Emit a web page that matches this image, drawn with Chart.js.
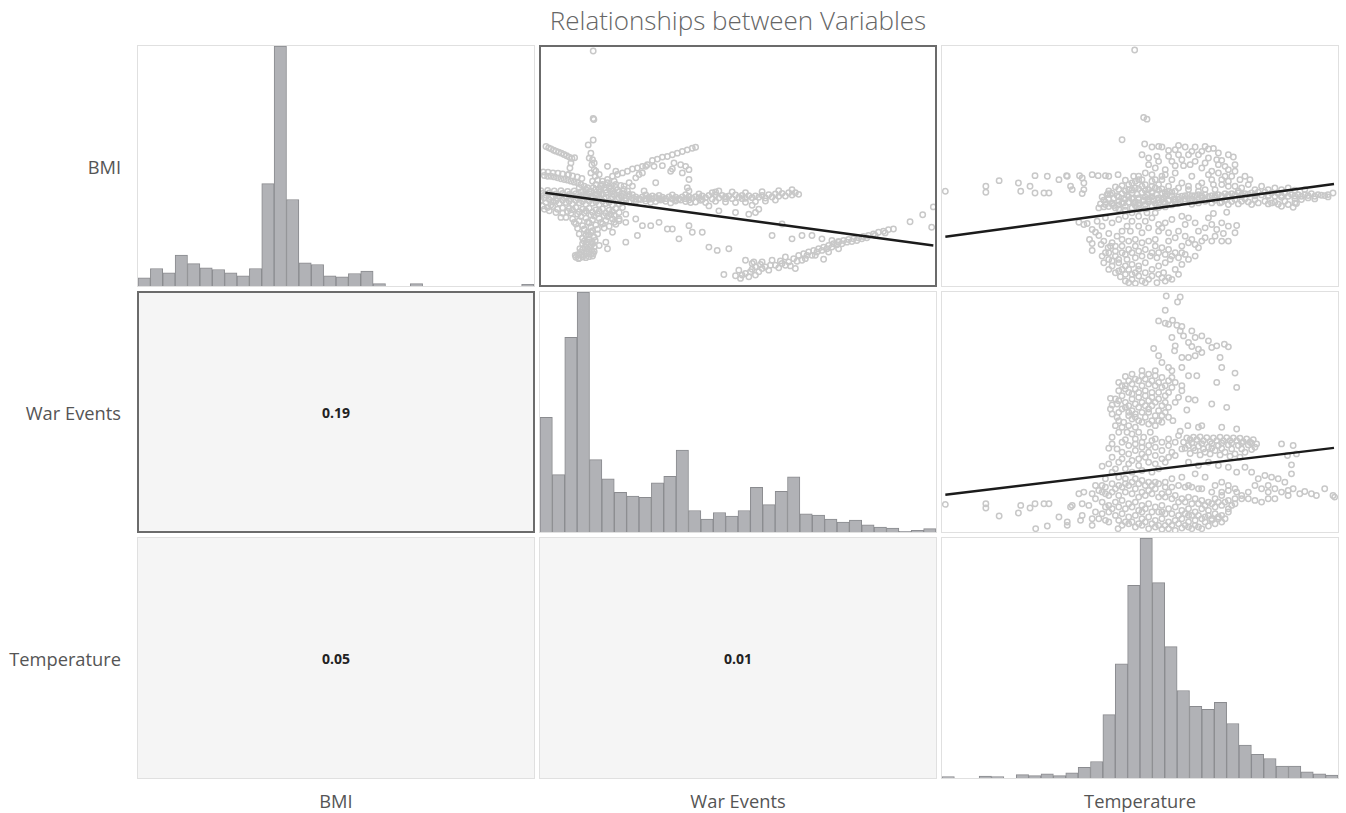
<!DOCTYPE html>
<html>
<head>
<meta charset="utf-8">
<title>Relationships between Variables</title>
<script src="https://cdn.jsdelivr.net/npm/chart.js@4.4.1/dist/chart.umd.min.js"></script>
<style>
  body { margin: 0; background: #fff; font-family: 'Open Sans', 'Noto Sans', sans-serif; }
  #page { position: relative; width: 1346px; height: 813px; overflow: hidden; }
  #titulo { position: absolute; left: 137px; width: 1202px; top: 2px; text-align: center; font-size: 26px; font-weight: 300; color: #666; }
  #grade { position: absolute; left: 137px; top: 45px; display: grid;
           grid-template-columns: repeat(3, 398px); grid-template-rows: repeat(3, 242px); gap: 4px; }
  .cell { position: relative; box-sizing: border-box; border: 1px solid #e0e0e0; background: #fff; }
  .cell.corr { background: #f5f5f5; display: flex; align-items: center; justify-content: center;
               font-weight: bold; font-size: 14px; color: #222; }
  .cell.destaque { border: 2px solid #6b6b6b; }
  .rotulo-linha { position: absolute; left: 0; width: 121px; height: 242px; display: flex;
                  align-items: center; justify-content: flex-end; font-size: 18.3px; color: #555; }
  .rotulo-coluna { position: absolute; top: 788px; width: 398px; text-align: center; font-size: 18.3px; color: #555; }
</style>
</head>
<body>
<div id="page">
  <div id="titulo">Relationships between Variables</div>
  <div id="grade"></div>
</div>
<script>
const variaveis = ['BMI', 'War Events', 'Temperature'];

// histogramas (32 classes cada)
const bmiCounts = [25, 53, 40, 94, 68, 55, 50, 40, 31, 53, 310, 727, 262, 70, 65, 31,
                   28, 38, 45, 7, 0, 0, 7, 0, 0, 0, 0, 0, 0, 0, 0, 5];
const warCounts = [347, 174, 590, 727, 219, 161, 120, 109, 105, 149, 169, 248, 65, 39, 59, 48,
                   65, 135, 83, 123, 167, 55, 51, 39, 30, 36, 22, 15, 12, 2, 5, 10];
const tempCounts = [4, 0, 0, 6, 4, 0, 10, 7, 13, 7, 16, 32, 50, 192, 346, 584,
                    727, 592, 398, 265, 217, 208, 229, 165, 100, 72, 59, 36, 36, 19, 13, 9];

// correlações (linha, coluna) do triângulo inferior
const corrPairs = [[1, 0], [2, 0], [2, 1]];
const corrValues = [0.19, 0.05, 0.01];

// BMI (y) x War Events (x)
const warBmiPoints = [
  [17.2,71.0],[17.2,50.5],[17.4,50.2],[17.2,44.0],[15.7,42.5],[16.5,40.0],[16.0,38.5],
  [3.0,42.0],[3.8,41.6],[4.5,41.3],[5.3,40.9],[6.0,40.6],[6.8,40.3],[7.6,40.0],[8.4,39.6],[9.2,39.2],
  [10.0,38.8],[10.8,38.4],[11.6,38.6],[10.5,37.0],[10.2,35.5],[9.8,33.5],
  [2.5,33.2],[3.5,33.0],[4.5,33.0],[5.5,32.8],[6.5,32.5],[7.5,32.2],[8.5,32.0],[9.5,31.8],[10.5,31.5],
  [11.5,31.2],[12.5,31.0],[13.5,30.5],[14.5,30.0],[15.5,29.5],
  [16.8,36.5],[17.5,35.0],[16.5,34.0],[17.8,33.0],[17.0,31.5],[18.0,30.5],[17.2,29.5],[16.5,28.5],[18.5,27.5],
  [20.0,31.5],[21.5,32.0],[23.0,33.0],[24.5,33.5],[26.0,34.0],[27.5,34.5],[29.0,35.2],[30.5,35.5],[32.0,36.0],
  [33.5,36.5],[35.0,37.8],[36.5,38.2],[38.0,38.8],[39.5,39.0],[41.0,39.5],[42.5,40.0],[44.0,40.5],[45.5,41.0],
  [47.0,41.5],[48.0,41.8],
  [21.5,36.0],[24.0,34.5],[22.0,29.5],[24.0,30.5],[26.5,30.0],[28.0,31.0],[30.0,32.5],[32.0,34.0],[33.0,36.0],
  [35.5,36.0],[38.0,36.2],[40.5,34.5],[41.5,37.0],[43.5,36.5],[44.0,34.0],[45.0,36.0],[46.0,35.0],[46.0,32.0],
  [45.5,29.5],[46.0,28.5],[41.0,35.2],[36.0,31.0],[31.0,33.5],[29.0,30.0],[32.5,28.5],[35.0,27.0],[23.5,27.5],[25.5,27.0],
  [2.0,27.8],[4.0,27.9],[6.0,27.6],[8.0,27.8],[10.0,27.5],[12.0,27.7],[14.0,27.4],[16.0,27.6],[18.0,27.3],[20.0,27.5],
  [2.5,26.4],[4.5,26.6],[6.5,26.3],[8.5,26.5],[10.5,26.2],[12.5,26.4],[14.5,26.1],[16.5,26.3],[18.5,26.0],[20.5,26.2],
  [22.5,26.0],[24.5,26.1],
  [3.0,25.0],[5.0,25.2],[7.0,24.8],[9.0,25.0],[11.0,24.6],[13.0,24.9],[15.0,24.5],[17.0,24.8],[19.0,24.4],[21.0,24.7],
  [23.0,24.3],[25.0,24.6],
  [8.0,23.4],[10.0,23.2],[12.0,23.5],[14.0,23.0],[16.0,23.3],[18.0,22.8],[20.0,23.1],[22.0,22.7],
  [10.5,21.8],[12.5,21.5],[14.5,21.9],[16.5,21.2],[18.5,21.6],[20.5,21.0],[22.5,21.4],
  [13.0,29.5],[15.0,29.0],[19.0,29.2],[21.0,28.8],[23.0,28.5],[25.0,28.2],[20.0,30.5],[22.0,30.0],[24.0,29.6],
  [14.0,28.4],[26.0,27.8],[28.0,27.5],
  [26,26.9],[28,26.8],[30,26.7],[32,26.7],[34,26.6],[36,26.6],[38,26.6],[40,26.7],[42,26.6],[44,26.7],[46,26.8],
  [48,26.8],[50,27.0],[52,27.2],[54,27.3],[56,27.2],[58,27.0],[60,27.3],[62,27.2],[64,27.1],[66,27.0],[68,27.2],
  [70,27.4],[72,27.6],[74,27.8],[76,28.0],[78,28.0],
  [27,25.6],[30,25.4],[33,25.5],[36,25.3],[39,25.4],[42,25.5],[45,25.3],[48,25.2],[51,25.0],[52,24.0],[54,25.4],
  [57,25.2],[60,25.0],[63,25.1],[66,25.3],[69,25.5],[72,25.8],[54,28.2],[55,28.5],[57,26.2],[62,26.2],[65,24.2],[67,23.0],
  [9,20.5],[11,20.0],[13,19.5],[15,20.3],[17,19.8],[19,20.2],[21,19.6],[23,20.0],[25,19.5],
  [12,18.5],[14,18.0],[16,18.8],[18,18.2],[20,18.5],[22,17.8],[24,18.4],
  [14.5,17.0],[15.5,16.0],[15.0,15.0],[16.0,14.0],[15.5,13.0],[16.5,12.0],[15.5,11.0],[16.0,10.0],[15.0,9.5],
  [17.0,16.5],[17.5,14.5],[17.0,12.5],[14.0,12.5],[16.8,10.5],
  [12.0,8.4],[13.0,8.2],[14.0,8.5],[15.0,8.3],[16.0,8.6],[17.0,8.8],[12.5,9.2],[14.5,9.0],[16.5,9.4],[13.5,10.0],
  [17.5,10.2],[12.8,8.0],
  [25,20],[27,19],[30,20],[32,18],[34.5,18],[37,19],[39.5,17],[41,17],[43,14],[46,18],[47,16],[50,16],[52,11.5],
  [54.5,10.5],[58,11],[55,22.5],[60,22],[64,21.5],[66,22],[71,15],[74,18.5],[77,14],[80,15],[83,15],[86,14],
  [89,13.5],[91,13.2],[23,16],[21,13],[21.5,11],[27,13],[30.5,15],[19,12],[23.5,19],
  [56.5,3.2],[60,2.8],[61.5,2.0],[63,3.5],[64,2.5],[63,7.5],[65.5,7.0],[66,5.5],[67,4.0],[68,5.0],[69,5.5],[70,4.5],
  [66,3.0],[72,6.0],[74,6.5],[75,6.0],[76,7.0],[77.5,8.0],[75,8.5],[78,5],[79,9.0],[80.5,9.5],[82,10.0],[83.5,10.5],
  [85,11.0],[86.5,11.5],[88,12.0],[89.5,12.5],[91,13.0],[92.5,13.5],[94,13.8],[95.5,14.0],[97,14.3],[98.5,14.7],
  [100,15.0],[101.5,15.5],[103,16.0],[104.5,16.3],[106,16.8],[107.5,17.0],[86.5,7.8],[84,9],[81,8],[88,10],[91,11],
  [112.5,19.2],[116.3,21.3],[119.5,23.7],[119,17.5]
];
// pontos extras das zonas mais densas
const warBmiDense = [
  [2.2,34.3],[3.6,34.2],[5.1,34.0],[6.6,33.9],[8.0,33.7],[9.5,33.4],[11.0,33.1],[12.4,32.8],[13.8,32.3],
  [1,27.1],[3,27.2],[5,27.0],[7,27.1],[9,26.9],[11,27.0],[13,26.8],[15,26.9],[17,26.7],[19,26.8],[21,26.6],[23,26.7],
  [25,26.5],[27,26.4],[29,26.3],[31,26.2],[33,26.2],[35,26.1],[37,26.1],[39,26.2],[41,26.1],[43,26.2],[45,26.2],
  [47,26.3],[49,26.4],[51,26.5],
  [26,25.0],[28,25.2],[31.5,25.9],[34.5,25.0],[37.5,25.8],[40.5,24.9],[43.5,25.8],[46.5,25.0],[49.5,25.7],
  [53,26.1],[55,26.4],[57,26.8],[59,26.2],[61,26.6],[63,26.3],[65,26.5],[67,26.6],[69,26.4],[71,26.7],[73,26.9],
  [75,27.0],[77,27.3],[79,27.5],[53,28.0],[59,28.2],[63,28.0],[68,28.3],[73,28.6],[77,28.9],
  [2,24.0],[3.5,23.5],[5,23.8],[6.5,23.0],[4,22.5],[6,22.0],[8,21.8],[7.5,20.5],[9.5,22.3],[11,22.8],[13,22.2],
  [15,22.5],[17,22.1],[19,22.4],[21,21.8],[23,22.3],[25,22.0],[27,21.5],[24,23.2],[26,23.5],[11.5,19.0],[13.5,20.8],
  [15.5,19.1],[17.5,20.9],[19.5,19.0],[21.5,20.8],[23.5,21.1],[12.5,17.2],[14.5,16.8],[16.5,17.5],[18.5,16.9],
  [20.5,17.3],[13,15.5],[18.5,15.5],[14,14.2],[17.8,13.5],[14.5,13.3],[14.8,11.5],[17.5,11.5],[13.2,11.0],[15.2,10.2],
  [17.2,9.5],[13.0,9.2],[11.8,9.0],[14.0,10.8],[16.2,11.5],[15,12.3],[16.8,13.2],[15.8,15.2],[16.5,16],
  [18.5,31.8],[19.5,30.2],[20.5,29.5],[21.5,31.0],[22.5,29.2],[23.5,31.5],[24.5,28.8],[25.5,30.2],[26.5,29.0],
  [27.5,28.5],[19,28.2],[21,27.9],[23,27.7],[18,29.0],[19,33.5],[18,34.5],[17,38],[17.5,37],
  [65,4.8],[67.5,6.2],[70.5,6.0],[71,7.5],[73,5.2],[73.5,7.3],[76.5,5.8],[78.5,7.2],[80,7.5],[81.5,9.0],[83,9.0],
  [84.5,10.0],[86,10.5],[87.5,11.0],[89,11.5],[90.5,12.2],[92,12.5],[93.5,13.0],[95,13.2],[96.5,13.5],[98,14.0],
  [99.5,14.3],[102,15.0],[105,15.8],[61,4.5],[62,3.0],[64.5,4],[65,6.5],[68,7],
  [1.5,25.8],[4,25.9],[6,25.5],[8,25.7],[10,25.4],[12,25.6],[14,25.3],[16,25.5],[18,25.2],[20,25.4],[22,25.1],
  [1.5,28.6],[3.5,28.7],[5.5,28.5],[7.5,28.6],[9.5,28.4],[11.5,28.5],[13.5,28.2],[16,28.3],[2.5,23.0],[4.5,24.3],
  [30,26.0],[34,26.0],[38,25.9],[42,25.9],[46,25.8],[50,25.9],[29,27.4],[33,27.3],[37,27.2],[41,27.3],[45,27.4],[49,27.6]
];
const warBmiFit = [[2.8, 28.0], [119.5, 12.0]];

// BMI (y) x Temperature (x)
const tempBmiPoints = [
  [59.8,71.0],[62.5,50.7],[63.5,50.2],[56,44],[62.8,42.7],
  [65,41.8],[68,41.8],[72,41],[75,41.8],[78,41.8],[81,42],[83.5,41.4],
  [62,39.5],[64,38.5],[66.5,39],[70,39],[73,39.5],[76,39.5],[79,39.5],[82,38.5],[84.5,38],[88,39.5],[89.5,38.8],
  [85,36.5],[87,36],[88,35],[90,34.5],
  [64,36.5],[66,35.5],[69,35],[72,36.2],[74.5,36.2],[76.5,36.5],[80,35.5],[83,34.5],[85,34],
  [63,34],[61,33],[59.5,33],[65,33.5],[68,33],[71,32],[74,31],[76,30],[80,31],[83,32],[86,32],[89,33],[91.5,32],[94.5,32],
  [72,28.5],[79,28.5],[83.5,30.5],[88,30],[91,28.5],
  [2.8,28.5],[15,30],[15,28.2],[19,31.7],[24.8,31],[25.5,28.5],[28.3,30],[29.8,33.2],[29.8,28],[32.5,28],[33.5,33],
  [34,28],[37,32],[39.3,33.2],[39.5,33],[40.5,30],[43.2,33.2],[44,32.5],[44.5,31],[44,27.8],[44.5,29],[47,33.5],
  [48.8,33.2],[51,33.2],[52,33],[54.8,33.5],[51.8,27.8],[52.5,27.5],[41,29],
  [49.5,24.7],[51,24.5],[53,25],[55,25.5],[57,26],[59,26.2],[61,26.5],[63,26.7],[65,26.8],[67,26.5],[69,27],[71,27],
  [73,26.8],[75,27.2],[77,27.2],[79,27.5],[81,27.5],[83,27.2],[85,27.5],[87,27.8],[89,27.8],[91,28],[93,27.8],[95,28],
  [97,28.2],[99,28.2],[101,28],[103,27.8],[105,27.8],[107,27.5],[109,27.5],[111,27.5],[113,27.8],[115,27.5],[117,27.2],[119.5,28],
  [54,23.5],[57,24],[60,24.2],[63,24.5],[66,24.8],[69,25],[72,25.2],[75,25.5],[78,25.5],[81,25.5],[84,25.8],[87,26],
  [90,26],[93,26.2],[96,26],[99,25.5],[102,25.2],[105,25.5],[108,25],[104,24],[107.5,23.7],[108.5,24.8],[100,24.7],
  [95,24.5],[91,24.7],[88,24.5],[85.5,25],
  [56,25],[60,25.3],[64,25.7],[68,26],[72,26.1],[76,26.3],[80,26.5],[84,26.6],[88,26.9],[92,27],[96,27.1],[100,27],
  [104,26.7],[108,26.3],[112,26.5],
  [58,29],[60,29.5],[62,30],[64,29],[66,29.5],[68,29.2],[70,28.5],[60,31.5],[62,32],[65,31.5],[68,32],
  [43,19.2],[44.5,18.5],[45.5,18.8],[47,17],[48,16.2],[49,15.2],[46.2,14],[47,12.8],[47,10.7],[49.7,12.5],[50.5,13.5],
  [52,15.8],[51.8,11.5],[53,13],[54.5,15],[56,16.5],[57.5,18],[59,19.5],[61,21],[63.5,22],[66,22],[69,19],[71,20],
  [74,21],[76,20.5],[78,19],[82,20.5],[83.5,21.8],[87.5,22.2],[84.5,17],[86.5,15.8],[90,16],[90.5,18.2],[88,13.5],
  [86,13.5],[83,13.5],[80,13.5],[77,14],[75,15],[73,16.5],[70,16],[67,16.5],[64,17.5],[61,18],[58.5,16.5],[56,14],
  [54,12],[52,10],[50,9],[52,8],[54,9],[56,10],[58,11],[60,12],[62,13],[64,13.5],[66,12],[68,11.5],[70,11],[72,10],
  [74,12],[76,13],[79,11.5],[70.5,8],[69,7],[67,6],[65,5],[63,4],[61,3],[59,2],[57,1.5],[55.5,2.8],[54,4],[52,5],
  [53,6],[55,7],[57.5,8],[60,8.5],[62,9],[64.5,9],[66.5,8.5],[68.5,4],[70,2.5],[71,2],[66.5,1],[64,2],[62,1.5],
  [60,4],[58,5],[56,5]
];
const tempBmiDense = [
  [55,29.1],[57,28.6],[59,28.9],[61,29.3],[63,28.7],[65,28.4],[67,28.9],[69,28.2],
  [50,26.8],[51.5,27.5],[53,27.9],[54.5,27.2],[56,27.8],[57.5,27.4],[59,27.9],[60.5,27.6],[62,28.1],[63.5,27.7],
  [65,28.0],[66.5,27.6],[68,28.0],[69.5,27.7],[71,28.2],
  [50.5,25.8],[52,26.2],[53.5,26.4],[55,26.8],[56.5,26.3],[58,26.9],[59.5,26.5],[61,26.0],[62.5,25.9],[64,26.2],
  [65.5,26.0],[67,25.8],[68.5,26.2],[70,25.9],[71.5,26.1],
  [49,23.5],[50.5,23.8],[52,23.9],[53.5,24.2],[55,24.4],[56.5,25.0],[58,25.2],[59.5,24.9],[61,25.0],[62.5,25.5],
  [64,25.2],[65.5,25.6],[67,25.0],[68.5,25.3],[70,25.6],
  [74,27.0],[76,27.3],[78,27.2],[80,27.1],[82,26.9],[84,27.2],[86,27.1],[88,27.4],[90,27.4],[92,27.5],[94,27.6],
  [96,27.6],[98,27.4],[100,27.3],[102,27.0],[104,27.2],[106,27.0],[108,27.1],[110,27.0],[112,27.2],[114,27.0],
  [116,27.3],[118,27.5],
  [73,24.8],[77,24.6],[79,25.0],[83,25.0],[86,25.3],[89,25.4],[92,25.5],[94,25.3],[97,25.0],[101,25.0],[103,24.6],
  [106,24.5],[110,26.0],[114,26.2],[118,26.8],
  [48.5,19.5],[50,18],[51,20.5],[53,19],[55,20],[57,21],[59,22],[61,23],[63,19.5],[65,20.5],[67,18.5],[62,16],
  [60,14],[58,13.5],[56,12],[54,10.5],[52.5,12],[51,10],[50.5,7],[53,7.5],[55,8],[57,9.5],[59,10],[61,10.5],[63,11],
  [65,10],[67,10],[69,9.5],[71,9],[73,8.5],[75,9.5],[63,7],[61,6],[59,6.5],[57,6],[55,4.5],[57,3.5],[59,3.5],[61,5],
  [65,3],[67,3.5],[69,1.5],[68,2.5],[63,1],[60,0.8],[58,1],[72,5],[74,6.5],[76,8],[78,9],[73,3.5],[66,14],[70,13.5],
  [72,14.5],[68,17.5],[75,18.5],[79,16.5],[81,17.5],[83,18.5],[86,19],[88,18],[81,14.5],[84,15],[78,12.5],[74,10],
  [67,42],[70,40.8],[73,42.3],[77,40.5],[80,40.5],[82,41.2],[71,37.5],[74,38],[78,37.5],[81,37],[67,37.5],[69,33.5],
  [72,34],[77,33],[82,33.5],[87,33],[88,31.5],[84,29],[86,30.5],[90,30],[92,29.5],[94,30.5],[96,29],[98,30],[100,29],
  [102,29.5],[104,29],[106,29.5],[108,28.8],[111,29],[93,33],[90,36.5],[86,37.8],[85,40],[63,30.5],[65,30],[67,30.5],
  [70,30],[73,29.5],[76,29],[79,30],[81,29],[61,32],[66,32],
  [52,28.6],[54,29.8],[56,30.2],[58,30.5],[57,31.8],[59,31],[51,25.2],[53,24.6],[55,23.2],[57,22.8],[59,23.5],
  [61,24.2],[63,23.2],[65,24.0],[67,23.6],[69,23.8],[71,24.4],[73,26.0],[75,26.2],[77,26.2],[79,26.3],[81,26.2]
];
const tempBmiFit = [[2.8, 14.8], [119.8, 30.7]];

// War Events (y) x Temperature (x)
const tempWarPoints = [
  [69.3,71],[73.5,70.7],[72.7,69.2],[69,66.7],[67,63.5],[69,62.8],[71.2,63.7],[70,62.5],[72.5,62.2],[74,61.8],
  [73.5,60.5],[71,58.5],[77,60.5],[74.5,59],[78,58.5],[80,59],[82,57.5],[76,57],[77,55.8],[79,55],[84.5,56],
  [86.8,56.5],[88,55.7],[83,55.5],[72,56],[71.8,54.5],[65.5,55.2],[67,53],[68,51],[70,49.5],[74,52.5],[76,52.5],
  [78,53],[80,54],[85.5,52.5],[90,47.8],[90.5,43.5],[86,49.5],[84.5,45],[78.5,47],[76,47],[74,49.5],[71,48.5],
  [72,45],[74,44],[74,42.5],[76,40],[78,39.7],[83,38.5],[87.5,37.5],[75.5,36.7],[71.3,33.5],[73.5,30.3],[75.8,32],
  [79,31.5],[80,32],[86,31.5],[90.5,31],
  [56,44],[58,45.5],[60,46],[62,47],[64,47.5],[66,47],[68,46.5],[70,45.5],[56,41],[58,42],[60,43],[62,44],[64,44.5],
  [66,44],[68,43.5],[70,42],[54,40],[57,39],[59,40],[61,40.5],[63,41],[65,40.5],[67,40],[69,39],[56,37],[58,36],
  [61,37.5],[63,38],[65,38],[67,36.5],[69,36],[54.5,34.5],[56.5,33],[59,34],[61,33.5],[63,34.5],[65,33.5],[66,32],
  [68,33],[52.5,40.2],[53,38.2],[54.5,38.5],[60,34.5],[64,36],
  [54,32],[56,31.5],[57.5,30],[59,29.5],[61,30],[62.5,28.5],[64.5,30],[66,28],[57,27.8],[60,28],[62,27],[64,26],
  [53,26.5],[52,25.2],[54.5,25],[56,24],[58,23.5],[60,24.5],[62,23.5],[64,24],[66,23],[68,24.5],[70,26],[68,22],
  [70,22.5],[72,23],[74,25],[56,22],[59,21.5],[61,22],[63,22.5],[50,19.8],[52,20.5],[54,19],
  [74.5,27],[76.5,27.8],[78.5,27.8],[80.5,27.5],[82.5,27.2],[84.5,27.5],[86.5,27.5],[88.5,27.5],[90.5,27.5],
  [92.5,27.2],[94.5,27],[96.5,26.5],[76,26],[79,25.8],[82,25.5],[85,26],[88,26.2],[91,26],[94,26.2],[96,25.5],
  [78,24.5],[81,24],[84,24.5],[87,24],[90,23.5],[93,24],[104,26.5],[107.5,26],[108.5,23.5],[105.8,23],
  [76,21],[79,20],[82,21],[85,20],[88,19.5],[90.5,18],[93,19.5],[95,18],[97,16],[99,17],[101,16.5],[103,16],
  [105,15],[107,17.5],[107,20.2],[100,14],[102,13],[104,12],[106,12.5],[96,14],[94,12],[92,11],[90,13],[88,12.5],
  [86,15],[84,14],[81,16.5],[78,17.5],[76,14],[74,16.5],[79,13],[109.5,11.5],[111,12.2],[113,11.5],[114.5,11],
  [117,13],[119.5,11],[120,10.5],[107.5,13],[106,11],
  [2.8,8.3],[15,8.5],[15,7.2],[19,4.8],[24.8,5.7],[25.5,8],[28.3,7.2],[29.8,8.5],[32.5,8.5],[34,8.5],[30,1],
  [33.5,1.8],[37,4.5],[39.5,3],[39.5,2],[40.5,7.5],[41,8],[43.5,3.5],[44,5],[44,8.5],[44.5,12],[47,2],[49,4],
  [51,3.5],[52,3],[54.8,1],[43,11.5],
  [48,10],[50,12],[52,11],[54,13],[56,13.5],[58,14],[60,13],[62,12],[64,12.5],[66,13],[68,11.5],[70,12],[72,11],
  [74,10],[76,10.5],[78,10],[80,9.5],[82,9],[84,10],[86,11],[88,9.5],[90,10],
  [50,9],[52,8],[54,9],[56,9.5],[58,8.5],[60,9],[62,8],[64,8.5],[66,7.5],[68,8],[70,7],[72,7.5],[74,6.5],[76,7],
  [78,6],[80,7],[82,6.5],[84,7.5],[86,8],[88,7],[90,8.5],
  [52,6],[54,5],[56,5.5],[58,4.5],[60,5],[62,4],[64,4.5],[66,3.5],[68,4],[70,3],[72,3.5],[74,4],[76,3],[78,3.5],
  [80,4],[82,5],[84,5.5],[86,5],[88,6],
  [56,2],[58,2.5],[60,1.5],[62,2],[64,1],[66,1.5],[68,0.8],[70,1],[72,0.5],[74,1.2],[76,1.5],[78,2],[80,1],[82,1.8],
  [84,2.5],[86,3],
  [76,5],[68,6],[62,6],[50,14],[48,14],[51,16],[53,18],[55,16.5],[57,16],[60,16],[62,15.5],[64,15],[66,15],[69,15],
  [71,16],[73,14],[75,13.5],[77,13.5],[80,13],[83,12],[86,12],[88,14],[90.5,12],[92,10],[94,10],[96,9.5],[98,9],
  [100,10],[102,10],[98,13],[100,12]
];
const tempWarDense = [
  [55,45],[57,44],[59,44.5],[61,45.5],[63,46],[65,45.5],[67,45],[69,44],[55,42.5],[57,43],[59,41.5],[61,42],
  [63,42.5],[65,42],[67,42],[69,41],[71,43.5],[55,39.5],[58,38],[60,38.5],[62,39],[64,39.5],[66,39],[68,38],
  [70,37.5],[55,36],[57,37.5],[59,36.5],[62,36],[64,37],[66,35],[68,35],[70,34.5],[58,35],[60,35.5],[62,33],
  [64,32.5],[67,33.5],[58,32],[60,31.5],[55,33.5],[53,35.5],[52.5,37],[72,39],[73,40.5],[71,46.5],[66,48.5],
  [62,48.5],[59,47.5],[57,46.8],
  [75.5,28.3],[77.5,28.5],[79.5,28.6],[81.5,28.4],[83.5,28.3],[85.5,28.5],[87.5,28.4],[89.5,28.3],[91.5,28.2],
  [93.5,28.0],[95.5,27.8],[77,26.8],[80,26.6],[83,26.6],[86,26.8],[89,26.8],[92,26.8],[95,26.7],[75,25.2],[77.5,25.3],
  [80.5,25.0],[83,25.2],[86,25.1],[89,25.0],[92,25.0],[95,24.8],[76.5,23.6],[79.5,23.2],[82.5,23.5],[85.5,23.2],
  [88.5,22.8],[91.5,22.5],
  [51,11.5],[53,12],[55,11],[57,12],[59,11.5],[61,10.5],[63,11],[65,11.5],[67,10.5],[69,10.5],[71,10],[73,9],[75,9],
  [77,8.5],[79,8.5],[81,8],[83,8.5],[85,9],[87,9],[89,8],
  [51,7.5],[53,7],[55,7.5],[57,7],[59,7.5],[61,6.5],[63,7],[65,6],[67,6],[69,5.5],[71,5.5],[73,5],[75,5.5],[77,5],
  [79,5],[81,4.5],[83,4],[85,4],
  [55,3.5],[57,3],[59,3],[61,2.5],[63,3],[65,2.5],[67,2],[69,2],[71,2],[73,2.5],[75,2],[77,1],[79,1.5],[81,3],
  [83,3.5],[85,4.5],[87,4],
  [49,12.5],[51,13.5],[53,14.5],[55,14],[57,14.5],[59,15],[61,14.5],[63,14],[65,14],[67,14.5],[69,13.5],[71,13.5],
  [47,11.5],[46,8],[48,6],[50,5.5],[47,4],
  [53,28.5],[55,30],[56,27],[58,26],[60,26.5],[62,25.5],[65,27.5],[66,25.5],[68,27],[70,28],[72,27],[73,29],[71,24],
  [69,21],[66,20.5],[64,21],[61,20],[58,20.5],[55,21],[53,22.5],[57,19],[59,18],[62,18.5],[65,18],[67,19]
];
const tempWarFit = [[2.8, 11.2], [119.8, 25.3]];

// limites das escalas de cada painel de dispersão
const scatterPanels = [
  { row: 0, col: 1, points: warBmiPoints.concat(warBmiDense), fit: warBmiFit, x: [1.5, 120], y: [0, 72.2] },
  { row: 0, col: 2, points: tempBmiPoints.concat(tempBmiDense), fit: tempBmiFit, x: [1.8, 121], y: [0, 72.2] },
  { row: 1, col: 2, points: tempWarPoints.concat(tempWarDense), fit: tempWarFit, x: [1.8, 121], y: [0, 72.2] }
];
const histogramas = [bmiCounts, warCounts, tempCounts];

document.addEventListener('DOMContentLoaded', function(){
    montarMatriz();
});

function montarMatriz(){
    const grade = document.getElementById('grade');
    const page = document.getElementById('page');

    // maior correlação recebe destaque
    let maior = 0;
    corrValues.forEach(function(v, i){ if (Math.abs(v) > Math.abs(corrValues[maior])) maior = i; });
    const destaque = corrPairs[maior];

    for (let r = 0; r < 3; r++) {
        for (let c = 0; c < 3; c++) {
            const cell = document.createElement('div');
            cell.className = 'cell';
            grade.appendChild(cell);
            const marcado = (r === destaque[0] && c === destaque[1]) || (r === destaque[1] && c === destaque[0]);
            if (marcado) cell.classList.add('destaque');

            if (r === c) {
                montarHistograma(cell, histogramas[r]);
            } else if (r < c) {
                const p = scatterPanels.find(function(s){ return s.row === r && s.col === c; });
                montarDispersao(cell, p);
            } else {
                const idx = corrPairs.findIndex(function(q){ return q[0] === r && q[1] === c; });
                cell.classList.add('corr');
                cell.textContent = corrValues[idx].toFixed(2);
            }
        }
    }

    variaveis.forEach(function(nome, i){
        const lin = document.createElement('div');
        lin.className = 'rotulo-linha';
        lin.style.top = (45 + i * 246) + 'px';
        lin.textContent = nome;
        page.appendChild(lin);

        const col = document.createElement('div');
        col.className = 'rotulo-coluna';
        col.style.left = (137 + i * 402) + 'px';
        col.textContent = nome;
        page.appendChild(col);
    });
}

function novoCanvas(cell){
    const canvas = document.createElement('canvas');
    cell.appendChild(canvas);
    return canvas;
}

function montarHistograma(cell, counts){
    const labels = counts.map(function(_, i){ return 'bin ' + (i + 1); });
    new Chart(novoCanvas(cell), {
        type: 'bar',
        data: {
            labels: labels,
            datasets: [{
                data: counts,
                backgroundColor: 'rgb(177,178,182)',
                borderColor: 'rgb(138,139,143)',
                borderWidth: 1,
                barPercentage: 1,
                categoryPercentage: 1
            }]
        },
        options: {
            responsive: true,
            maintainAspectRatio: false,
            animation: false,
            layout: { padding: 0, autoPadding: false },
            plugins: { legend: { display: false }, tooltip: { enabled: false } },
            scales: {
                x: { display: false },
                y: { display: false, min: 0, max: Math.max.apply(null, counts) }
            }
        }
    });
}

function montarDispersao(cell, p){
    new Chart(novoCanvas(cell), {
        type: 'scatter',
        data: {
            datasets: [
                {
                    type: 'line',
                    data: p.fit.map(function(d){ return { x: d[0], y: d[1] }; }),
                    borderColor: '#1b1b1b',
                    borderWidth: 2.4,
                    pointRadius: 0,
                    order: 0
                },
                {
                    data: p.points.map(function(d){ return { x: d[0], y: d[1] }; }),
                    pointRadius: 2.7,
                    pointBorderWidth: 1.5,
                    pointBackgroundColor: 'rgba(255,255,255,0)',
                    pointBorderColor: '#c8c8c8',
                    order: 1
                }
            ]
        },
        options: {
            responsive: true,
            maintainAspectRatio: false,
            animation: false,
            layout: { padding: 0, autoPadding: false },
            plugins: { legend: { display: false }, tooltip: { enabled: false } },
            scales: {
                x: { type: 'linear', display: false, min: p.x[0], max: p.x[1] },
                y: { type: 'linear', display: false, min: p.y[0], max: p.y[1] }
            }
        }
    });
}
</script>
</body>
</html>
